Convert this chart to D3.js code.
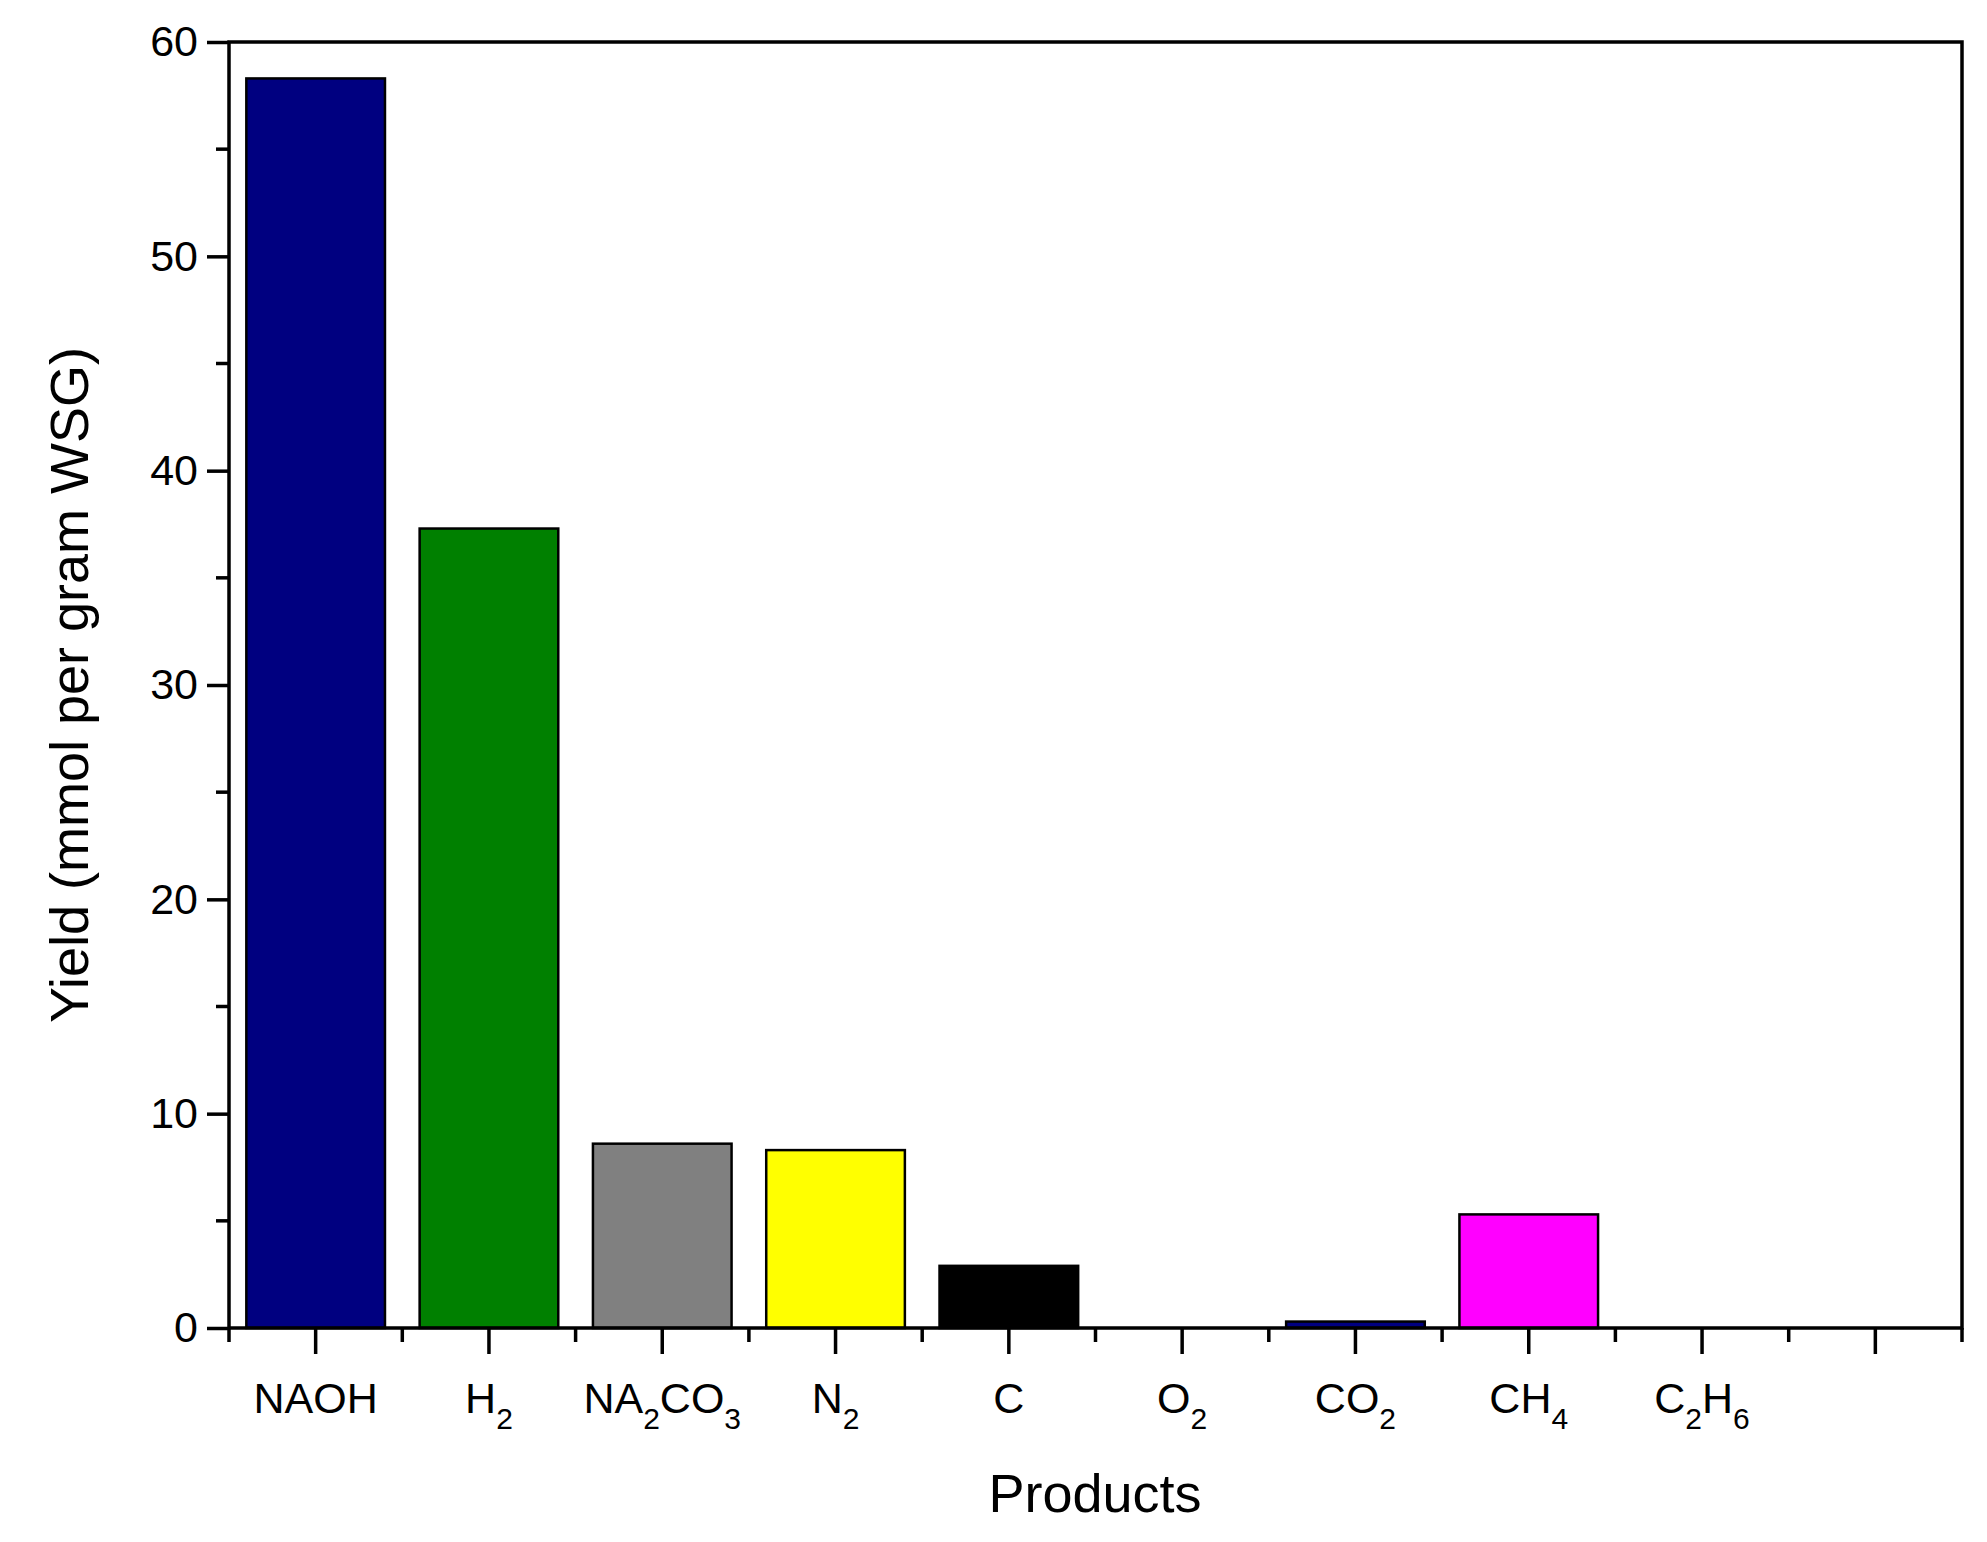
<!DOCTYPE html>
<html><head><meta charset="utf-8">
<script src="https://cdn.jsdelivr.net/npm/d3@7"></script>
<style>body{margin:0;background:#fff}</style></head>
<body><svg id="c" width="1987" height="1542"></svg>
<script>
const categories = ["NAOH","H2","NA2CO3","N2","C","O2","CO2","CH4","C2H6",""];
const labels = [[["NAOH",0]],[["H",0],["2",1]],[["NA",0],["2",1],["CO",0],["3",1]],[["N",0],["2",1]],[["C",0]],[["O",0],["2",1]],[["CO",0],["2",1]],[["CH",0],["4",1]],[["C",0],["2",1],["H",0],["6",1]],[]];
const values = [58.3,37.3,8.6,8.3,2.9,0,0.3,5.3,0,null];
const colors = ["#000080","#008000","#808080","#ffff00","#000000","#000000","#000080","#ff00ff","#000000",null];
const yTicks = [0,10,20,30,40,50,60];

const svg = d3.select("#c");
const L=229,R=1962,T=42,B=1328;
const xc = d3.scaleBand().domain(categories.map((d,i)=>i)).range([L,R]);
const y = d3.scaleLinear().domain([0,60]).range([B,T]);
const font="Arial, 'Liberation Sans', sans-serif";

svg.selectAll("rect.bar").data(values.map((v,i)=>({v,i})).filter(d=>d.v!==null && d.v>0)).join("rect")
 .attr("x",d=>xc(d.i)+xc.bandwidth()*0.1).attr("width",xc.bandwidth()*0.8)
 .attr("y",d=>y(d.v)).attr("height",d=>B-y(d.v))
 .attr("fill",d=>colors[d.i]).attr("stroke","#000").attr("stroke-width",2.5);

svg.append("rect").attr("x",L).attr("y",T).attr("width",R-L).attr("height",B-T).attr("fill","none").attr("stroke","#000").attr("stroke-width",3.5);

const ya = svg.append("g").attr("transform",`translate(${L},0)`)
 .call(d3.axisLeft(y).tickValues(yTicks).tickSize(22).tickFormat(d3.format("d")));
ya.select(".domain").remove();
ya.selectAll("line").attr("stroke-width",3.5);
ya.selectAll("text").attr("font-family",font).attr("font-size",43).attr("fill","#000").attr("dx","-6");
const minorY = d3.range(5,60,10);
svg.selectAll("line.my").data(minorY).join("line").attr("x1",L).attr("x2",L-13)
 .attr("y1",d=>y(d)).attr("y2",d=>y(d)).attr("stroke","#000").attr("stroke-width",3.5);

svg.selectAll("line.mx").data(categories.map((d,i)=>i)).join("line")
 .attr("x1",i=>xc(i)+xc.bandwidth()/2).attr("x2",i=>xc(i)+xc.bandwidth()/2)
 .attr("y1",B).attr("y2",B+26).attr("stroke","#000").attr("stroke-width",3.5);
svg.selectAll("line.nx").data(d3.range(0,11)).join("line")
 .attr("x1",i=>L+i*xc.step()).attr("x2",i=>L+i*xc.step())
 .attr("y1",B).attr("y2",B+14).attr("stroke","#000").attr("stroke-width",3.5);

labels.forEach((parts,i)=>{
  if(!parts.length) return;
  const t = svg.append("text").attr("x",xc(i)+xc.bandwidth()/2).attr("y",1413)
    .attr("text-anchor","middle").attr("font-family",font).attr("font-size",43);
  parts.forEach(([s,sub])=>{
    const ts = t.append("tspan").text(s);
    if(sub) ts.attr("font-size",30).attr("baseline-shift","-16");
  });
});

svg.append("text").attr("x",1095).attr("y",1512).attr("text-anchor","middle")
 .attr("font-family",font).attr("font-size",54).text("Products");
svg.append("text").attr("transform",`translate(88,${(T+B)/2}) rotate(-90)`).attr("text-anchor","middle")
 .attr("font-family",font).attr("font-size",54).text("Yield (mmol per gram WSG)");
</script></body></html>
